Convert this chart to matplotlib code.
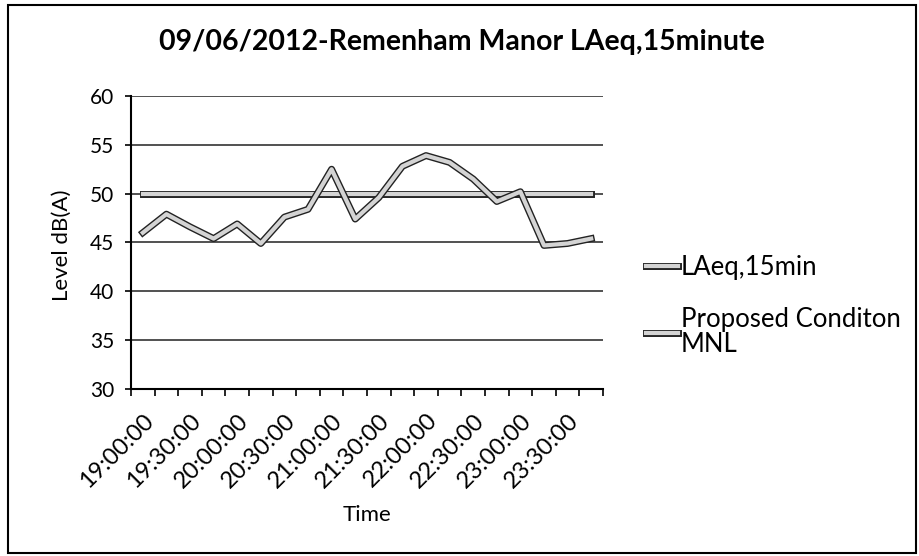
import matplotlib
matplotlib.use("Agg")
import matplotlib.pyplot as plt
import matplotlib.patheffects as pe
from matplotlib.patches import Rectangle
import numpy as np

plt.rcParams['font.family'] = ['Lato', 'DejaVu Sans']

# data (15 minute intervals, 19:00 - 23:45)
times = ["19:00:00", "19:15:00", "19:30:00", "19:45:00", "20:00:00",
         "20:15:00", "20:30:00", "20:45:00", "21:00:00", "21:15:00",
         "21:30:00", "21:45:00", "22:00:00", "22:15:00", "22:30:00",
         "22:45:00", "23:00:00", "23:15:00", "23:30:00", "23:45:00"]
laeq = [46.0, 47.9, 46.6, 45.4, 46.9, 44.9, 47.6, 48.4, 52.5, 47.4,
        49.6, 52.8, 53.9, 53.2, 51.5, 49.2, 50.2, 44.7, 44.9, 45.4]
mnl = [50] * len(times)

title = "09/06/2012-Remenham Manor LAeq,15minute"
yticks = [30, 35, 40, 45, 50, 55, 60]

W, H = 920, 556
fig = plt.figure(figsize=(W / 100, H / 100), dpi=100)
fig.patch.set_facecolor("white")

# outer chart border
fig.add_artist(Rectangle((8 / W, 1 - 553 / H), 908 / W, 548 / H,
                         transform=fig.transFigure, fill=False,
                         edgecolor="black", lw=1.5))

ax = fig.add_axes([131 / W, 1 - 389 / H, 472 / W, 293 / H])
x = np.arange(len(times))

outline = [pe.Stroke(linewidth=6.5, foreground="#222222"), pe.Normal()]
ax.plot(x, mnl, color="#d4d4d4", lw=4, path_effects=outline, zorder=3,
        label="Proposed Conditon\nMNL")
ax.plot(x, laeq, color="#d4d4d4", lw=4, path_effects=outline, zorder=4,
        label="LAeq,15min")

ax.set_xlim(-0.5, len(times) - 0.5)
ax.set_ylim(30, 60)
ax.set_yticks(yticks)
for v in yticks[1:]:
    ax.axhline(v, color="#333333", lw=1.2, zorder=1)

ax.set_xticks(x[::2])
ax.set_xticklabels(times[::2], rotation=45, ha="right", rotation_mode="anchor",
                   fontsize=17)
ax.set_xticks(np.arange(-0.5, len(times)), minor=True)
ax.tick_params(axis="x", which="major", length=0, pad=15)
ax.tick_params(axis="x", which="minor", length=5, width=1.2, direction="out")
ax.tick_params(axis="y", length=4, width=1.2, labelsize=15, pad=8)

for s in ["top", "right"]:
    ax.spines[s].set_visible(False)
for s in ["left", "bottom"]:
    ax.spines[s].set_linewidth(1.5)

ax.set_ylabel("Level dB(A)", fontsize=16)
ax.yaxis.set_label_coords(-0.125, 0.49)
ax.set_xlabel("Time", fontsize=16, labelpad=10)
fig.text(462 / W, 1 - 42 / H, title, ha="center", va="center",
         fontsize=20.5, fontweight="bold")

handles, labels = ax.get_legend_handles_labels()
for h in handles:
    h.set_linewidth(3)
    h.set_path_effects([pe.Stroke(linewidth=5, foreground="#222222"), pe.Normal()])
leg = fig.legend(handles[::-1], labels[::-1], loc="upper left",
                 bbox_to_anchor=(636 / W, 1 - 245 / H), frameon=False,
                 fontsize=18.5, handlelength=1.25, handletextpad=0.1,
                 labelspacing=1.05, borderaxespad=0)
for t in leg.get_texts():
    t.set_linespacing(1.0)

fig.savefig("out.png", dpi=100, facecolor="white")
